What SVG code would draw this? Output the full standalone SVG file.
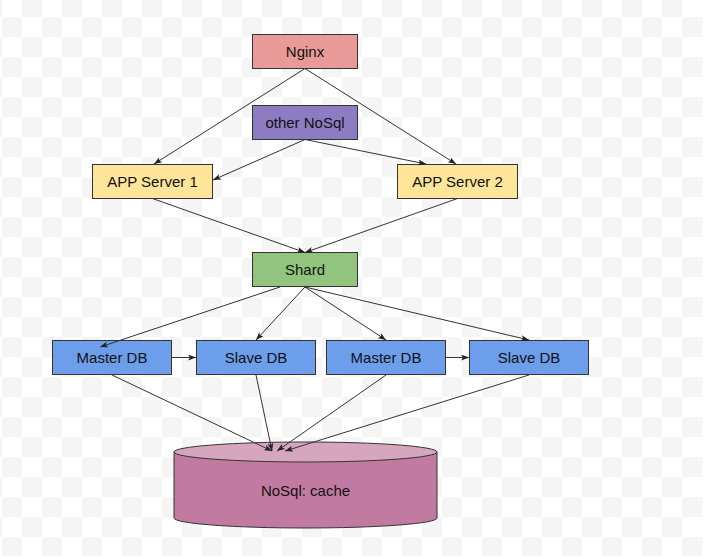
<svg xmlns="http://www.w3.org/2000/svg" width="707" height="559" viewBox="0 0 707 559">
<defs>
<pattern id="checker" patternUnits="userSpaceOnUse" x="2" y="-3" width="40" height="40">
<rect x="0" y="0" width="40" height="40" fill="#ffffff"/>
<rect x="20" y="0" width="20" height="20" fill="#f5f5f5"/>
<rect x="0" y="20" width="20" height="20" fill="#f5f5f5"/>
</pattern>
<marker id="arrow" viewBox="0 0 8 6" refX="8" refY="3" markerWidth="8" markerHeight="6" markerUnits="userSpaceOnUse" orient="auto">
<path d="M0,0 L8,3 L0,6 L2,3 z" fill="#222"/>
</marker>
</defs>
<style>
.box{stroke:#333;stroke-width:1}
.lbl{font-family:"Liberation Sans",Arial,sans-serif;font-size:15px;fill:#111;text-anchor:middle}
.edge{fill:none;stroke:#333;stroke-width:1;marker-end:url(#arrow)}
</style>
<rect x="0" y="0" width="707" height="559" fill="#ffffff"/>
<rect x="0" y="0" width="702" height="556" fill="url(#checker)"/>

<g id="nginx">
<rect class="box" x="252.5" y="34.5" width="105" height="34" fill="#ea9999"/>
<text class="lbl" x="305" y="57">Nginx</text>
</g>
<g id="other-nosql">
<rect class="box" x="252.5" y="105.5" width="105" height="34" fill="#8e7cc3"/>
<text class="lbl" x="305" y="128">other NoSql</text>
</g>
<g id="app-server-1">
<rect class="box" x="92.5" y="164.5" width="120" height="34" fill="#ffe599"/>
<text class="lbl" x="152.5" y="187">APP Server 1</text>
</g>
<g id="app-server-2">
<rect class="box" x="397.5" y="164.5" width="120" height="34" fill="#ffe599"/>
<text class="lbl" x="457.5" y="187">APP Server 2</text>
</g>
<g id="shard">
<rect class="box" x="252.5" y="252.5" width="105" height="34" fill="#93c47d"/>
<text class="lbl" x="305" y="275">Shard</text>
</g>
<g id="master-db-1">
<rect class="box" x="52.5" y="340.5" width="119" height="34" fill="#6d9eeb"/>
<text class="lbl" x="112" y="363">Master DB</text>
</g>
<g id="slave-db-1">
<rect class="box" x="196.5" y="340.5" width="119" height="34" fill="#6d9eeb"/>
<text class="lbl" x="256" y="363">Slave DB</text>
</g>
<g id="master-db-2">
<rect class="box" x="326.5" y="340.5" width="119" height="34" fill="#6d9eeb"/>
<text class="lbl" x="386" y="363">Master DB</text>
</g>
<g id="slave-db-2">
<rect class="box" x="469.5" y="340.5" width="119" height="34" fill="#6d9eeb"/>
<text class="lbl" x="529" y="363">Slave DB</text>
</g>
<g id="nosql-cache">
<path class="box" d="M174,452 L174,518 A131.5,10 0 0 0 437,518 L437,452 Z" fill="#c27ba0"/>
<ellipse class="box" cx="305.5" cy="452" rx="131.5" ry="10" fill="#d5a6bd"/>
<text class="lbl" x="305.5" y="496">NoSql: cache</text>
</g>

<g id="connectors">
<path class="edge" d="M305,68.5 L154,164"/>
<path class="edge" d="M305,68.5 L456,164"/>
<path class="edge" d="M305,139.5 L213,180"/>
<path class="edge" d="M305,139.5 L426,164"/>
<path class="edge" d="M152.5,198.5 L305,252.5"/>
<path class="edge" d="M457.5,198.5 L305,252.5"/>
<path class="edge" d="M280,287 L100,347"/>
<path class="edge" d="M305,287 L256,340"/>
<path class="edge" d="M305,287 L386,340"/>
<path class="edge" d="M305,287 L529,340"/>
<path class="edge" d="M171.5,357.5 L196,357.5"/>
<path class="edge" d="M445.5,357.5 L469,357.5"/>
<path class="edge" d="M112,375 L272,451"/>
<path class="edge" d="M256,375 L272,451"/>
<path class="edge" d="M386,375 L277,451"/>
<path class="edge" d="M529,375 L285,451"/>
</g>
</svg>
